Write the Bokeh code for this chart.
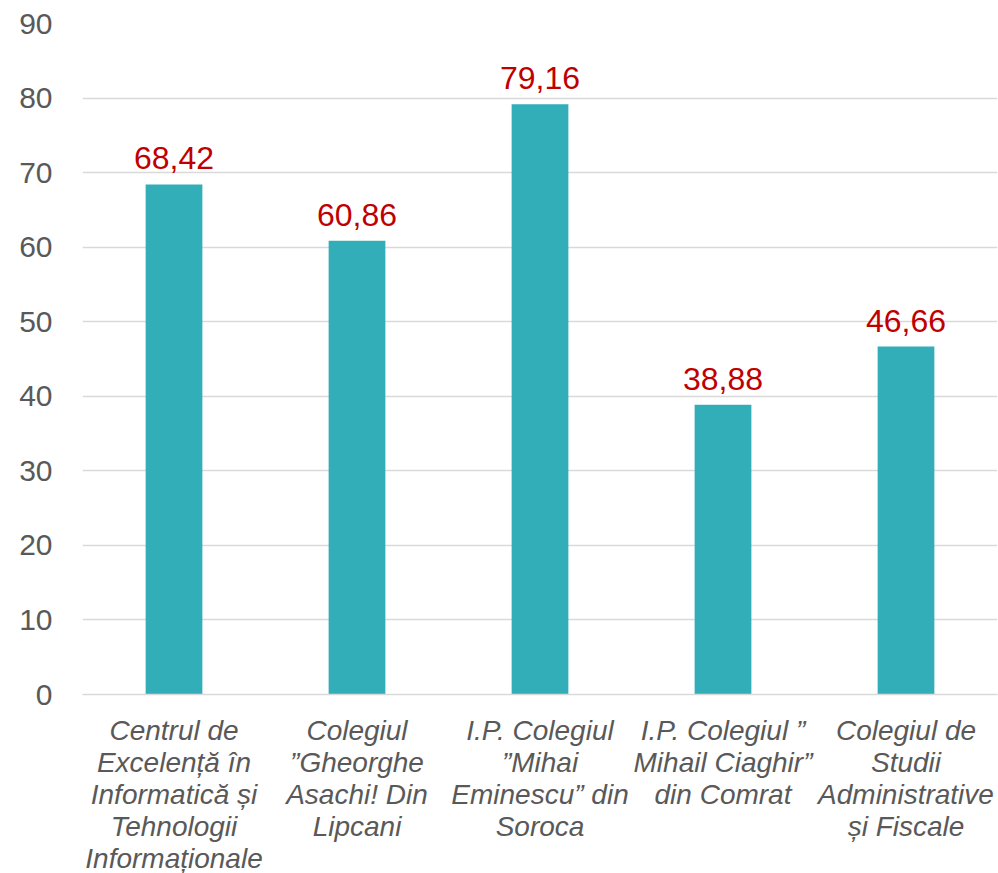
from bokeh.plotting import figure
from bokeh.models import ColumnDataSource, FixedTicker, Range1d, FactorRange
from bokeh.core.properties import value
from bokeh.embed import file_html
from bokeh.resources import INLINE

categories = [
    "Centrul de\nExcelență în\nInformatică și\nTehnologii\nInformaționale",
    "Colegiul\n”Gheorghe\nAsachi! Din\nLipcani",
    "I.P. Colegiul\n”Mihai\nEminescu” din\nSoroca",
    "I.P. Colegiul ”\nMihail Ciaghir”\ndin Comrat",
    "Colegiul de\nStudii\nAdministrative\nși Fiscale",
]
values = [68.42, 60.86, 79.16, 38.88, 46.66]
y_ticks = [0, 10, 20, 30, 40, 50, 60, 70, 80, 90]

value_labels = [f"{v:.2f}".replace(".", ",") for v in values]
source = ColumnDataSource(data=dict(cat=categories, val=values, lab=value_labels))

p = figure(
    x_range=FactorRange(*categories, range_padding=0),
    y_range=Range1d(0, 90),
    frame_width=915, frame_height=671,
    min_border_left=82, min_border_right=1, min_border_top=23, min_border_bottom=179,
    output_backend="svg", toolbar_location=None,
    background_fill_color="white", border_fill_color="white",
)
p.outline_line_color = None

p.vbar(x="cat", top="val", width=0.31, source=source, fill_color="#31AEB8", line_color=None)
p.text(x="cat", y="val", text="lab", source=source, text_align="center", text_baseline="bottom",
       y_offset=-15, text_color="#C00000", text_font=value("Liberation Sans"), text_font_size="32px")

p.xgrid.grid_line_color = None
p.ygrid.grid_line_color = "#D9D9D9"
p.ygrid.grid_line_width = 1.5

p.yaxis.ticker = FixedTicker(ticks=y_ticks)
p.yaxis.axis_line_color = None
p.yaxis.major_tick_line_color = None
p.yaxis.minor_tick_line_color = None
p.yaxis.major_label_text_font = "Liberation Sans"
p.yaxis.major_label_text_font_size = "30px"
p.yaxis.major_label_text_color = "#595959"
p.yaxis.major_label_standoff = 24

p.xaxis.axis_line_color = "#D9D9D9"
p.xaxis.axis_line_width = 1.5
p.xaxis.major_tick_line_color = None
p.xaxis.major_label_text_font = "Liberation Sans"
p.xaxis.major_label_text_font_style = "italic"
p.xaxis.major_label_text_font_size = "28px"
p.xaxis.major_label_text_line_height = 1.04
p.xaxis.major_label_text_color = "#595959"
p.xaxis.major_label_standoff = 14

open("out.html", "w").write(file_html(p, INLINE))
